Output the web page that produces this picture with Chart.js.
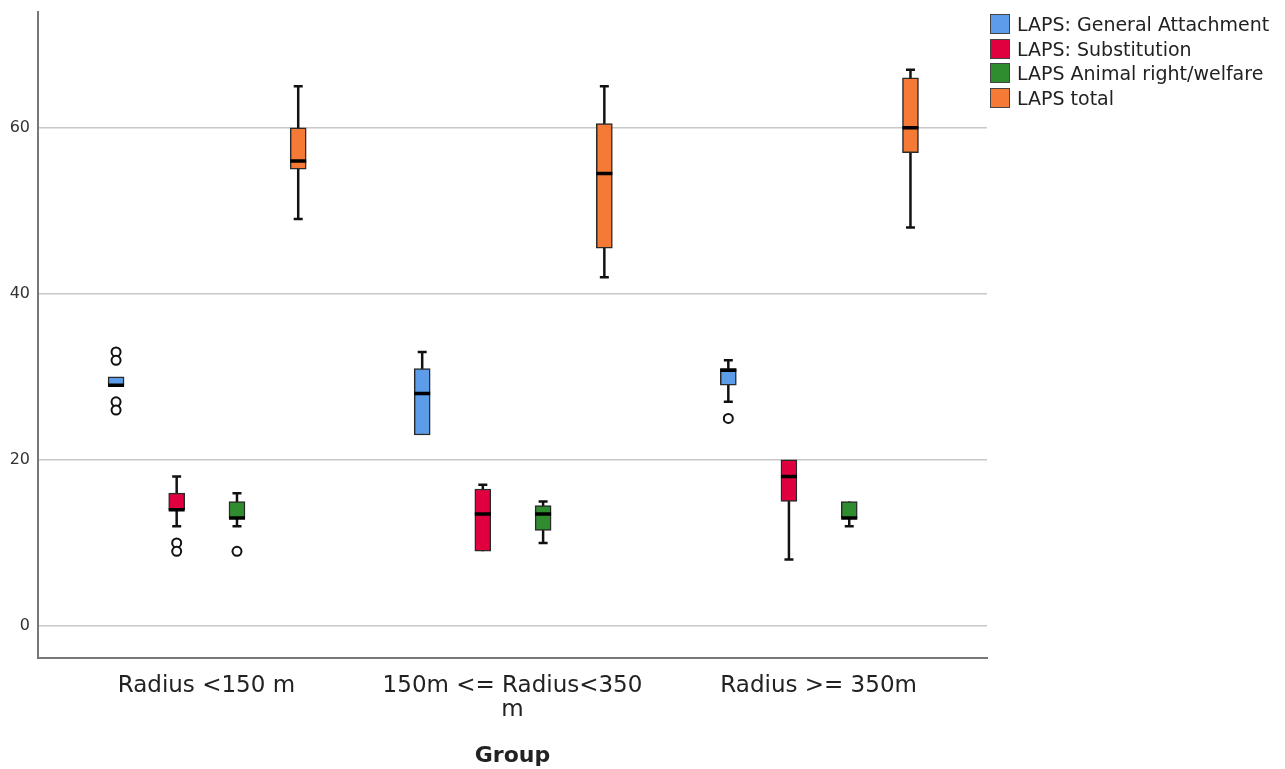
<!DOCTYPE html>
<html>
<head>
<meta charset="utf-8">
<script src="https://cdn.jsdelivr.net/npm/chart.js@4/dist/chart.umd.min.js"></script>
<style>
  body { margin: 0; background: #fff; }
  #wrap { position: relative; width: 1285px; height: 769px; }
  #legend { position: absolute; left: 990px; top: 12px; font-family: "DejaVu Sans", sans-serif; font-size: 19px; color: #222; }
  #legend div { height: 24.5px; display: flex; align-items: center; white-space: nowrap; }
  #legend span.sw { width: 20px; height: 20px; border: 1px solid #444; margin-right: 7px; box-sizing: border-box; flex: none; }
</style>
</head>
<body>
<div id="wrap">
  <canvas id="boxChart" width="1285" height="769"></canvas>
  <div id="legend"></div>
</div>
<script>
// Groups on the x axis
const groupLabels = ["Radius <150 m", ["150m <= Radius<350", "m"], "Radius >= 350m"];
const yTicks = [0, 20, 40, 60];

const seriesNames = ["LAPS: General Attachment", "LAPS: Substitution", "LAPS Animal right/welfare", "LAPS total"];
const seriesColors = ["#5c9ce8", "#e0003f", "#2f8c2f", "#f47a35"];

// per group: [lower whisker, Q1, median, Q3, upper whisker]
const generalAttachment = [[29, 29, 29, 30, 30], [23, 23, 28, 31, 33], [27, 29, 30.8, 31, 32]];
const substitution = [[12, 14, 14, 16, 18], [9, 9, 13.5, 16.5, 17], [8, 15, 18, 20, 20]];
const animalWelfare = [[12, 13, 13, 15, 16], [10, 11.5, 13.5, 14.5, 15], [12, 13, 13, 15, 15]];
const lapsTotal = [[49, 55, 56, 60, 65], [42, 45.5, 54.5, 60.5, 65], [48, 57, 60, 66, 67]];

// outliers per group
const generalAttachmentOut = [[33, 32, 27, 26], [], [25]];
const substitutionOut = [[10, 9], [], []];
const animalWelfareOut = [[9], [], []];
const lapsTotalOut = [[], [], []];

const allStats = [generalAttachment, substitution, animalWelfare, lapsTotal];
const allOut = [generalAttachmentOut, substitutionOut, animalWelfareOut, lapsTotalOut];
const offsets = [-0.295, -0.097, 0.1, 0.3];

const datasets = [];
const whiskers = [], caps = [], medians = [], outliers = [];

allStats.forEach((stats, s) => {
  datasets.push({
    type: 'bar',
    label: seriesNames[s],
    data: stats.map((b, g) => ({ x: g + offsets[s], y: [b[1], b[3]] })),
    backgroundColor: seriesColors[s],
    borderColor: '#2a2a2a',
    borderWidth: 1.5,
    borderSkipped: false,
    barThickness: 16,
    grouped: false,
    order: 2
  });

  stats.forEach((b, g) => {
    const x = g + offsets[s];
    whiskers.push({ x: x, y: b[0] }, { x: x, y: b[4] }, { x: x, y: null });
    if (b[0] < b[1]) caps.push({ x: x, y: b[0] });
    if (b[4] > b[3]) caps.push({ x: x, y: b[4] });
    medians.push({ x: x, y: b[2] });
    allOut[s][g].forEach(v => outliers.push({ x: x, y: v }));
  });
});

datasets.push({
  type: 'scatter', label: 'whisker', data: whiskers, showLine: true, spanGaps: false,
  borderColor: '#111', borderWidth: 2.5, pointRadius: 0, order: 3
});
datasets.push({
  type: 'scatter', label: 'cap', data: caps, pointStyle: 'line', pointRadius: 4.5,
  borderColor: '#111', pointBorderWidth: 2.5, order: 1
});
datasets.push({
  type: 'scatter', label: 'median', data: medians, pointStyle: 'line', pointRadius: 8,
  borderColor: '#000', pointBorderWidth: 3.5, order: 1
});
datasets.push({
  type: 'scatter', label: 'outlier', data: outliers, pointStyle: 'circle', pointRadius: 4.5,
  borderColor: '#111', backgroundColor: '#fff', pointBorderWidth: 2, order: 0
});

new Chart(document.getElementById('boxChart'), {
  type: 'bar',
  data: { datasets: datasets },
  options: {
    responsive: false,
    animation: false,
    layout: { padding: { top: 10, right: 298, left: 0, bottom: 0 } },
    plugins: { legend: { display: false }, tooltip: { enabled: false } },
    scales: {
      x: {
        type: 'linear',
        offset: false,
        min: -0.55,
        max: 2.55,
        afterBuildTicks: axis => { axis.ticks = groupLabels.map((l, i) => ({ value: i })); },
        afterFit: axis => { axis.height = 111; },
        grid: { display: false },
        border: { display: true, color: '#777', width: 2 },
        ticks: {
          callback: v => groupLabels[v],
          font: { family: 'DejaVu Sans', size: 23, lineHeight: 1.05 },
          color: '#222',
          padding: 8,
          maxRotation: 0,
          autoSkip: false
        },
        title: {
          display: true,
          text: 'Group',
          font: { family: 'DejaVu Sans', size: 22, weight: 'bold' },
          color: '#222',
          padding: { top: 0, bottom: 0 }
        }
      },
      y: {
        min: -3.85,
        max: 74,
        afterBuildTicks: axis => { axis.ticks = yTicks.map(v => ({ value: v })); },
        afterFit: axis => { axis.width = 38; axis.paddingTop = 0; axis.paddingBottom = 0; },
        grid: { color: '#c8c8c8', lineWidth: 1.5, drawTicks: false },
        border: { display: true, color: '#777', width: 2 },
        ticks: { font: { family: 'DejaVu Sans', size: 16 }, color: '#333', padding: 8 }
      }
    }
  }
});

// legend
const legend = document.getElementById('legend');
seriesNames.forEach((name, i) => {
  const row = document.createElement('div');
  row.innerHTML = `<span class="sw" style="background:${seriesColors[i]}"></span>${name}`;
  legend.appendChild(row);
});
</script>
</body>
</html>
